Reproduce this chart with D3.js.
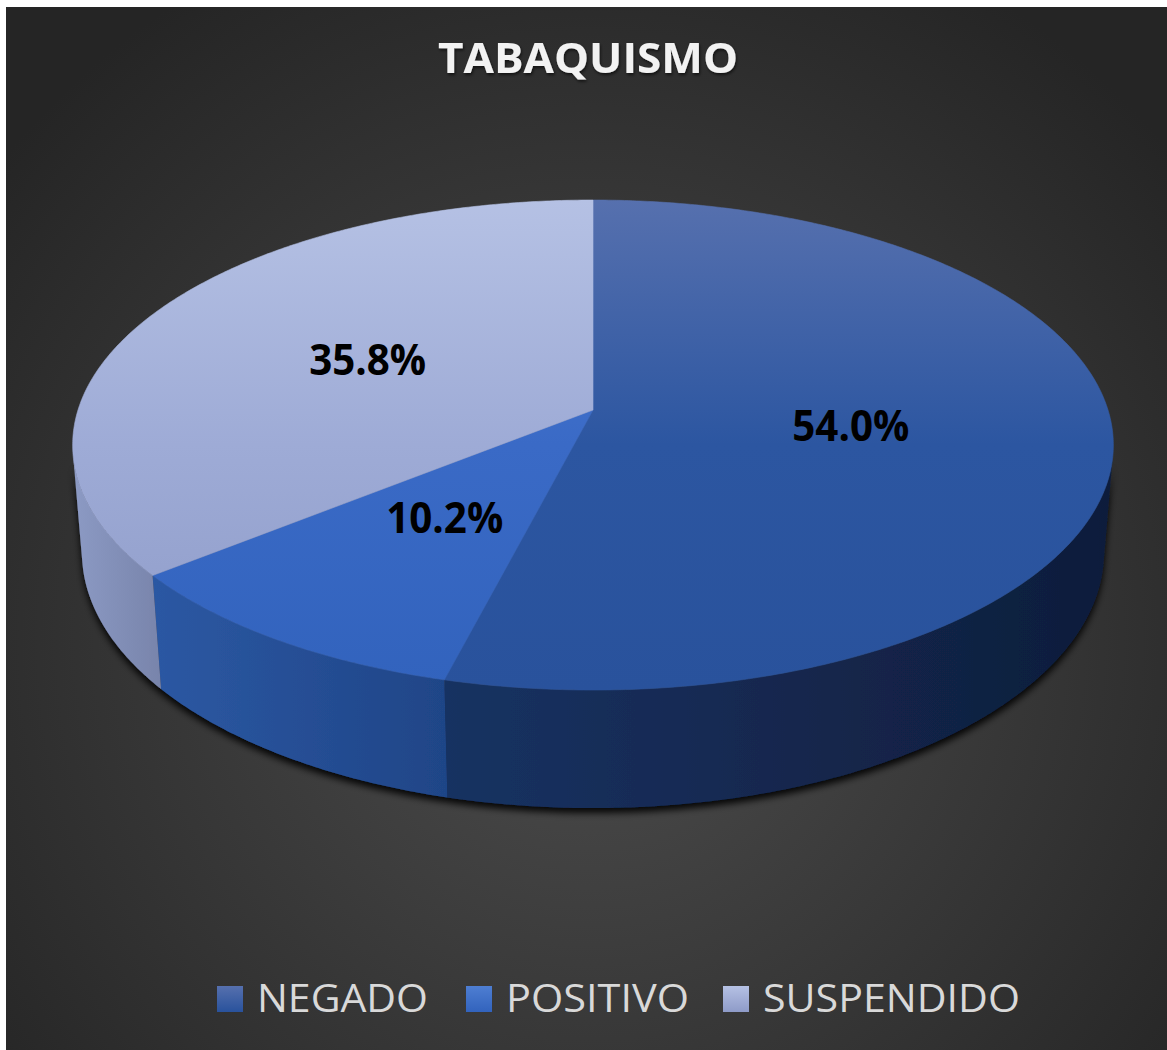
<!DOCTYPE html>
<html><head><meta charset="utf-8">
<script src="https://cdn.jsdelivr.net/npm/d3@7"></script>
<style>html,body{margin:0;padding:0;background:#fff;}svg{display:block;}</style>
</head><body>
<script>
// ---- data ----
const categories = ["NEGADO", "POSITIVO", "SUSPENDIDO"];
const values = [54.0, 10.2, 35.8];
const valueLabels = ["54.0%", "10.2%", "35.8%"];
const chartTitle = "TABAQUISMO";

// ---- styles ----
const topColors = [["#5670ae", "#2c56a1", "#29529c"], ["#4e7ed2", "#3a6ac6", "#3263bd"], ["#b5c1e4", "#9eabd6", "#8e9bc8"]];
const sideColors = [["#183262", "#0f1d3b"], ["#2c58a3", "#1f4587"], ["#8c9ac4", "#7884ab"]];

const W = 1167, H = 1050;
const svg = d3.select("body").append("svg").attr("width", W).attr("height", H);
const defs = svg.append("defs");

// background
const bg = defs.append("radialGradient").attr("id", "bg")
  .attr("gradientUnits", "userSpaceOnUse").attr("cx", 590).attr("cy", 640).attr("r", 760);
bg.append("stop").attr("offset", "0%").attr("stop-color", "#4d4d4d");
bg.append("stop").attr("offset", "100%").attr("stop-color", "#252525");
svg.append("rect").attr("x", 6).attr("y", 7).attr("width", W - 6).attr("height", H - 7).attr("fill", "url(#bg)");

// projection of the 3D pie
const P = {cx: 593, cy: 410, s: 515, sa: 0.466, ca: 0.885, D: 6.19, h: 0.2376};
function proj(theta, r, Y) {
  const X = r * Math.sin(theta), Z = -r * Math.cos(theta);
  const v = Z * P.sa - Y * P.ca, w = Z * P.ca + Y * P.sa;
  const f = P.D / (P.D - w);
  return [P.cx + P.s * X * f, P.cy + P.s * v * f];
}
const pie = d3.pie().sort(null).value(d => d)(values);
const step = Math.PI / 360;
function rim(a0, a1, Y) {
  const pts = [];
  const n = Math.max(2, Math.ceil((a1 - a0) / step));
  for (let i = 0; i <= n; i++) pts.push(proj(a0 + (a1 - a0) * i / n, 1, Y));
  return pts;
}
const line = d3.line();

// filters
const sh = defs.append("filter").attr("id", "shadow").attr("x", "-10%").attr("y", "-10%").attr("width", "120%").attr("height", "130%");
sh.append("feDropShadow").attr("dx", 0).attr("dy", 5).attr("stdDeviation", 3.5).attr("flood-color", "#000").attr("flood-opacity", 0.9);
const tsh = defs.append("filter").attr("id", "tshadow");
tsh.append("feDropShadow").attr("dx", 1).attr("dy", 2).attr("stdDeviation", 1.5).attr("flood-color", "#000").attr("flood-opacity", 0.6);

// gradients
pie.forEach((d, i) => {
  const g = defs.append("linearGradient").attr("id", "top" + i).attr("gradientUnits", "userSpaceOnUse")
    .attr("x1", 0).attr("y1", 200).attr("x2", 0).attr("y2", 690);
  g.append("stop").attr("offset", "0%").attr("stop-color", topColors[i][0]);
  g.append("stop").attr("offset", "50%").attr("stop-color", topColors[i][1]);
  g.append("stop").attr("offset", "100%").attr("stop-color", topColors[i][2]);
  const s = defs.append("linearGradient").attr("id", "side" + i).attr("x1", 0).attr("y1", 0).attr("x2", 1).attr("y2", 0);
  s.append("stop").attr("offset", "0%").attr("stop-color", sideColors[i][0]);
  s.append("stop").attr("offset", "100%").attr("stop-color", sideColors[i][1]);
  const l = defs.append("linearGradient").attr("id", "leg" + i).attr("x1", 0).attr("y1", 0).attr("x2", 0).attr("y2", 1);
  l.append("stop").attr("offset", "0%").attr("stop-color", topColors[i][0]);
  l.append("stop").attr("offset", "100%").attr("stop-color", topColors[i][2]);
});

// sides (visible front part of the cylinder)
const thA = Math.acos(-1 / (P.D * P.ca)), thB = 2 * Math.PI - thA;
const sideG = svg.append("g").attr("filter", "url(#shadow)");
pie.forEach((d, i) => {
  const a0 = Math.max(d.startAngle, thA), a1 = Math.min(d.endAngle, thB);
  if (a1 <= a0) return;
  const pts = rim(a0, a1, 0).concat(rim(a0, a1, -P.h).reverse());
  sideG.append("path").attr("d", line(pts) + "Z").attr("fill", "url(#side" + i + ")");
});

// top faces
const topG = svg.append("g");
pie.forEach((d, i) => {
  const pts = [proj(0, 0, 0)].concat(rim(d.startAngle, d.endAngle, 0));
  topG.append("path").attr("d", line(pts) + "Z").attr("fill", "url(#top" + i + ")")
    .attr("stroke", "url(#top" + i + ")").attr("stroke-width", 0.6);
});

// data labels
pie.forEach((d, i) => {
  const m = (d.startAngle + d.endAngle) / 2;
  const [x, y] = proj(m, 0.5, 0);
  svg.append("text").attr("x", x).attr("y", y).attr("text-anchor", "middle").attr("dy", "0.36em")
    .attr("font-family", "'Open Sans', sans-serif").attr("font-weight", 700).attr("font-size", 43)
    .attr("textLength", 117).attr("lengthAdjust", "spacingAndGlyphs")
    .attr("fill", "#000").text(valueLabels[i]);
});

// title
svg.append("text").attr("x", 588).attr("y", 73).attr("text-anchor", "middle")
  .attr("font-family", "'Open Sans', sans-serif").attr("font-weight", 700).attr("font-size", 42)
  .attr("textLength", 300).attr("lengthAdjust", "spacingAndGlyphs")
  .attr("fill", "#f2f2f2").attr("filter", "url(#tshadow)").text(chartTitle);

// legend
const legX = [217, 466, 723], legW = [171, 183, 257];
const leg = svg.append("g");
categories.forEach((c, i) => {
  leg.append("rect").attr("x", legX[i]).attr("y", 986).attr("width", 26).attr("height", 26).attr("fill", "url(#leg" + i + ")");
  leg.append("text").attr("x", legX[i] + 40).attr("y", 1012)
    .attr("font-family", "'Open Sans', sans-serif").attr("font-size", 38)
    .attr("textLength", legW[i]).attr("lengthAdjust", "spacingAndGlyphs")
    .attr("fill", "#d9d9d9").text(c);
});
</script>
</body></html>
